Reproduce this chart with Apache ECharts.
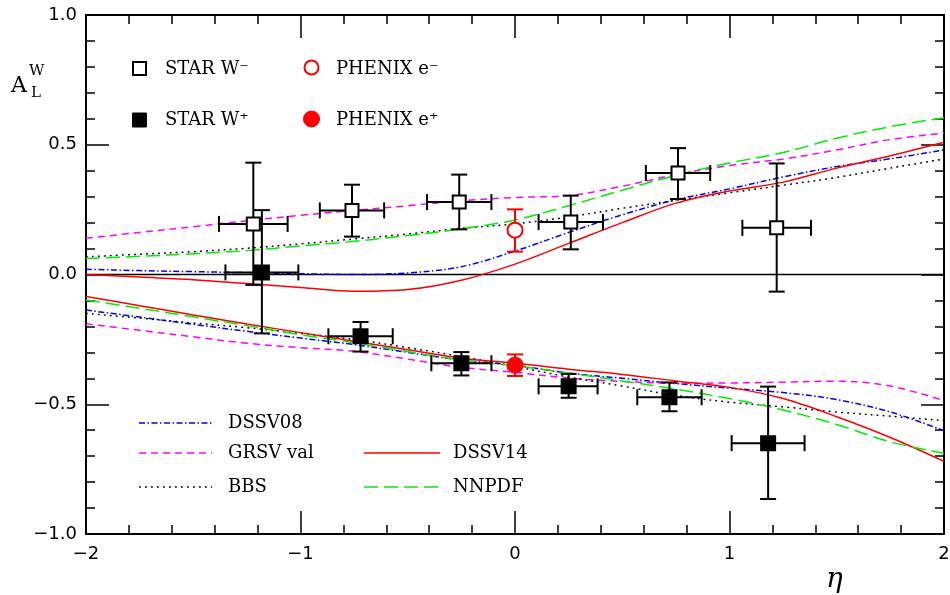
<!DOCTYPE html>
<html><head><meta charset="utf-8">
<script src="https://cdn.jsdelivr.net/npm/echarts@6/dist/echarts.min.js"></script>
<style>html,body{margin:0;padding:0;background:#fff}#c{width:950px;height:595px}</style>
</head><body><div id="c"></div>
<script>
// ---- tick labels ----
const xTicks = [-2, -1, 0, 1, 2];
const xTickLabels = ['\u22122', '\u22121', '0', '1', '2'];
const yTicks = [-1, -0.5, 0, 0.5, 1];
const yTickLabels = ['\u22121.0', '\u22120.5', '0.0', '0.5', '1.0'];

// ---- theory curves (eta grid) ----
const etaGrid = [-2, -1.75, -1.5, -1.25, -1, -0.75, -0.5, -0.25, 0, 0.25, 0.5, 0.75, 1, 1.25, 1.5, 1.75, 2];
const dssv08WMinus = [0.020, 0.015, 0.011, 0.007, 0.003, 0.000, 0.006, 0.030, 0.090, 0.162, 0.230, 0.288, 0.330, 0.376, 0.416, 0.446, 0.480];
const grsvWMinus   = [0.140, 0.162, 0.184, 0.207, 0.228, 0.247, 0.265, 0.284, 0.297, 0.304, 0.340, 0.385, 0.420, 0.445, 0.480, 0.520, 0.545];
const bbsWMinus    = [0.068, 0.078, 0.088, 0.101, 0.118, 0.137, 0.156, 0.178, 0.195, 0.222, 0.255, 0.286, 0.315, 0.344, 0.374, 0.410, 0.445];
const dssv14WMinus = [0.000, -0.010, -0.020, -0.035, -0.050, -0.065, -0.058, -0.022, 0.040, 0.120, 0.200, 0.275, 0.322, 0.356, 0.410, 0.458, 0.510];
const nnpdfWMinus  = [0.062, 0.070, 0.080, 0.092, 0.110, 0.128, 0.150, 0.176, 0.210, 0.265, 0.325, 0.382, 0.430, 0.470, 0.525, 0.570, 0.604];

const dssv08WPlus = [-0.137, -0.164, -0.192, -0.219, -0.245, -0.270, -0.300, -0.330, -0.350, -0.380, -0.400, -0.420, -0.438, -0.455, -0.482, -0.530, -0.602];
const grsvWPlus   = [-0.190, -0.215, -0.240, -0.265, -0.282, -0.296, -0.326, -0.358, -0.377, -0.399, -0.412, -0.419, -0.418, -0.415, -0.411, -0.430, -0.486];
const bbsWPlus    = [-0.150, -0.168, -0.187, -0.205, -0.227, -0.250, -0.282, -0.316, -0.355, -0.395, -0.430, -0.466, -0.492, -0.510, -0.530, -0.546, -0.563];
const dssv14WPlus = [-0.085, -0.120, -0.156, -0.191, -0.224, -0.257, -0.290, -0.323, -0.342, -0.365, -0.385, -0.410, -0.435, -0.478, -0.548, -0.628, -0.720];
const nnpdfWPlus  = [-0.098, -0.130, -0.163, -0.197, -0.232, -0.263, -0.297, -0.330, -0.352, -0.380, -0.410, -0.442, -0.478, -0.522, -0.578, -0.645, -0.689];

const zeroLineEta = [-2, 2];
const zeroLineVal = [0, 0];

// ---- STAR W- (open squares) ----
const starWmEta   = [-1.22, -0.76, -0.26, 0.26, 0.76, 1.22];
const starWmVal   = [0.195, 0.247, 0.279, 0.202, 0.391, 0.180];
const starWmLo    = [-0.040, 0.146, 0.174, 0.097, 0.291, -0.066];
const starWmHi    = [0.431, 0.346, 0.385, 0.304, 0.487, 0.428];
const starWmEtaLo = [-1.38, -0.91, -0.41, 0.11, 0.61, 1.06];
const starWmEtaHi = [-1.06, -0.61, -0.11, 0.41, 0.91, 1.38];

// ---- STAR W+ (filled squares) ----
const starWpEta   = [-1.18, -0.72, -0.25, 0.25, 0.72, 1.18];
const starWpVal   = [0.008, -0.238, -0.342, -0.431, -0.473, -0.650];
const starWpLo    = [-0.227, -0.297, -0.389, -0.475, -0.527, -0.865];
const starWpHi    = [0.248, -0.183, -0.299, -0.383, -0.416, -0.432];
const starWpEtaLo = [-1.35, -0.87, -0.39, 0.11, 0.57, 1.01];
const starWpEtaHi = [-1.01, -0.57, -0.11, 0.385, 0.87, 1.35];

// ---- PHENIX ----
const phenixEmEta = [0], phenixEmVal = [0.171], phenixEmLo = [0.088], phenixEmHi = [0.251];
const phenixEpEta = [0], phenixEpVal = [-0.350], phenixEpLo = [-0.391], phenixEpHi = [-0.308];

// ---- build ----
const zip = (xs, ys) => xs.map((x, i) => [x, ys[i]]);
const errData = (eta, val, lo, hi, elo, ehi) =>
  eta.map((x, i) => [x, val[i], elo ? elo[i] : x, ehi ? ehi[i] : x, lo[i], hi[i]]);

function errRender(color) {
  return function (params, api) {
    const x = api.value(0), y = api.value(1);
    const xl = api.value(2), xh = api.value(3), yl = api.value(4), yh = api.value(5);
    const pb = api.coord([x, yl]), pt = api.coord([x, yh]);
    const pl = api.coord([xl, y]), ph = api.coord([xh, y]);
    const cap = 8;
    const st = { stroke: color, lineWidth: 2, fill: null };
    const ch = [
      { type: 'line', shape: { x1: pb[0], y1: pb[1], x2: pt[0], y2: pt[1] }, style: st },
      { type: 'line', shape: { x1: pb[0] - cap, y1: pb[1], x2: pb[0] + cap, y2: pb[1] }, style: st },
      { type: 'line', shape: { x1: pt[0] - cap, y1: pt[1], x2: pt[0] + cap, y2: pt[1] }, style: st }
    ];
    if (xh > xl) {
      ch.push({ type: 'line', shape: { x1: pl[0], y1: pl[1], x2: ph[0], y2: ph[1] }, style: st });
      ch.push({ type: 'line', shape: { x1: pl[0], y1: pl[1] - cap, x2: pl[0], y2: pl[1] + cap }, style: st });
      ch.push({ type: 'line', shape: { x1: ph[0], y1: ph[1] - cap, x2: ph[0], y2: ph[1] + cap }, style: st });
    }
    return { type: 'group', children: ch };
  };
}

function curve(name, xs, ys, color, dash) {
  return {
    name, type: 'line', data: zip(xs, ys), smooth: 0.35, symbol: 'none', z: 2,
    lineStyle: { color, width: 1.5, type: dash }, silent: true
  };
}
function errSeries(data, color) {
  return {
    type: 'custom', renderItem: errRender(color), data, z: 3, silent: true,
    encode: { x: [0, 2, 3], y: [1, 4, 5] }
  };
}
function pts(xs, ys, symbol, size, fill, stroke) {
  return {
    type: 'scatter', data: zip(xs, ys), symbol, symbolSize: size, z: 4, silent: true,
    itemStyle: { color: fill, borderColor: stroke, borderWidth: 2, opacity: 1 }
  };
}

const BLUE = '#0000ff', MAG = '#ff00ff', RED = '#ff0000', GREEN = '#00ee00', BLK = '#000000';
const dashDot = [6, 2.5, 1.5, 2.5], magDash = [7, 5], dots = [1.8, 4.2], longDash = [14, 6];

const tickFont = { fontFamily: 'DejaVu Sans', fontSize: 18, color: '#000' };
const axisCommon = {
  type: 'value',
  axisLine: { show: true, onZero: false, lineStyle: { color: '#000', width: 2 } },
  axisTick: { show: true, inside: true, length: 23, lineStyle: { color: '#000', width: 1.5 } },
  minorTick: { show: true, splitNumber: 5, length: 9, lineStyle: { color: '#000', width: 1.5 } },
  splitLine: { show: false }
};

const series = [
  { type: 'line', data: zip(zeroLineEta, zeroLineVal), symbol: 'none', z: 1, silent: true,
    lineStyle: { color: '#000', width: 1.5 } },
  curve('DSSV08+', etaGrid, dssv08WMinus, BLUE, dashDot),
  curve('GRSV+', etaGrid, grsvWMinus, MAG, magDash),
  curve('BBS+', etaGrid, bbsWMinus, BLK, dots),
  curve('DSSV14+', etaGrid, dssv14WMinus, RED, 'solid'),
  curve('NNPDF+', etaGrid, nnpdfWMinus, GREEN, longDash),
  curve('DSSV08-', etaGrid, dssv08WPlus, BLUE, dashDot),
  curve('GRSV-', etaGrid, grsvWPlus, MAG, magDash),
  curve('BBS-', etaGrid, bbsWPlus, BLK, dots),
  curve('DSSV14-', etaGrid, dssv14WPlus, RED, 'solid'),
  curve('NNPDF-', etaGrid, nnpdfWPlus, GREEN, longDash),
  errSeries(errData(starWmEta, starWmVal, starWmLo, starWmHi, starWmEtaLo, starWmEtaHi), BLK),
  errSeries(errData(starWpEta, starWpVal, starWpLo, starWpHi, starWpEtaLo, starWpEtaHi), BLK),
  errSeries(errData(phenixEmEta, phenixEmVal, phenixEmLo, phenixEmHi), RED),
  errSeries(errData(phenixEpEta, phenixEpVal, phenixEpLo, phenixEpHi), RED),
  pts(starWmEta, starWmVal, 'rect', 13, '#fff', BLK),
  pts(starWpEta, starWpVal, 'rect', 14, BLK, BLK),
  pts(phenixEmEta, phenixEmVal, 'circle', 15, '#fff', RED),
  pts(phenixEpEta, phenixEpVal, 'circle', 15, RED, RED)
];

// ---- legend (graphic) ----
const legFont = '18px "DejaVu Serif"';
function legText(x, y, txt) {
  return { type: 'text', x, y, z: 10, style: { text: txt, font: legFont, fill: '#000', textVerticalAlign: 'middle' } };
}
function legLine(x1, x2, y, color, dash) {
  return { type: 'line', z: 10, shape: { x1, y1: y, x2, y2: y }, style: { stroke: color, lineWidth: 1.5, lineDash: dash } };
}
const graphic = [
  { type: 'rect', z: 10, shape: { x: 133, y: 62, width: 13, height: 13 }, style: { fill: '#fff', stroke: '#000', lineWidth: 2 } },
  legText(165, 69, 'STAR W\u207B'),
  { type: 'rect', z: 10, shape: { x: 132.5, y: 113, width: 14, height: 14 }, style: { fill: '#000', stroke: '#000', lineWidth: 1 } },
  legText(165, 120, 'STAR W\u207A'),
  { type: 'circle', z: 10, shape: { cx: 311.5, cy: 67.5, r: 7 }, style: { fill: '#fff', stroke: RED, lineWidth: 2 } },
  legText(336, 69, 'PHENIX e\u207B'),
  { type: 'circle', z: 10, shape: { cx: 311.5, cy: 119, r: 8 }, style: { fill: RED, stroke: RED, lineWidth: 1 } },
  legText(336, 120, 'PHENIX e\u207A'),
  legLine(139, 212, 423, BLUE, dashDot), legText(228, 423, 'DSSV08'),
  legLine(139, 212, 453, MAG, magDash), legText(228, 453, 'GRSV val'),
  legLine(139, 212, 487, BLK, dots), legText(228, 487, 'BBS'),
  legLine(364, 440, 453, RED, null), legText(453, 453, 'DSSV14'),
  legLine(364, 440, 487, GREEN, longDash), legText(453, 487, 'NNPDF'),
  // axis titles
  { type: 'text', x: 11, y: 86, style: { text: 'A', font: '22px "DejaVu Serif"', fill: '#000', textVerticalAlign: 'middle' } },
  { type: 'text', x: 29, y: 71, style: { text: 'W', font: '15px "DejaVu Serif"', fill: '#000', textVerticalAlign: 'middle' } },
  { type: 'text', x: 31, y: 93, style: { text: 'L', font: '15px "DejaVu Serif"', fill: '#000', textVerticalAlign: 'middle' } },
  { type: 'text', x: 826, y: 580, style: { text: '\u03B7', font: 'italic 28px "DejaVu Serif"', fill: '#000', textVerticalAlign: 'middle' } }
];

const chart = echarts.init(document.getElementById('c'), null, { renderer: 'canvas' });
chart.setOption({
  animation: false,
  backgroundColor: '#fff',
  grid: { left: 86, right: 6, top: 15, bottom: 61, containLabel: false, outerBoundsMode: 'none' },
  xAxis: [
    Object.assign({}, axisCommon, {
      position: 'bottom', min: -2, max: 2, interval: 1,
      axisLabel: Object.assign({}, tickFont, { margin: 11,
        formatter: v => { const i = xTicks.indexOf(v); return i >= 0 ? xTickLabels[i] : ''; } })
    }),
    Object.assign({}, axisCommon, { position: 'top', min: -2, max: 2, interval: 1, axisLabel: { show: false } })
  ],
  yAxis: [
    Object.assign({}, axisCommon, {
      position: 'left', min: -1, max: 1, interval: 0.5,
      axisLabel: Object.assign({}, tickFont, { margin: 9,
        formatter: v => { const i = yTicks.findIndex(t => Math.abs(t - v) < 1e-9); return i >= 0 ? yTickLabels[i] : ''; } })
    }),
    Object.assign({}, axisCommon, { position: 'right', min: -1, max: 1, interval: 0.5, axisLabel: { show: false } })
  ],
  series,
  graphic
});
</script>
</body></html>
